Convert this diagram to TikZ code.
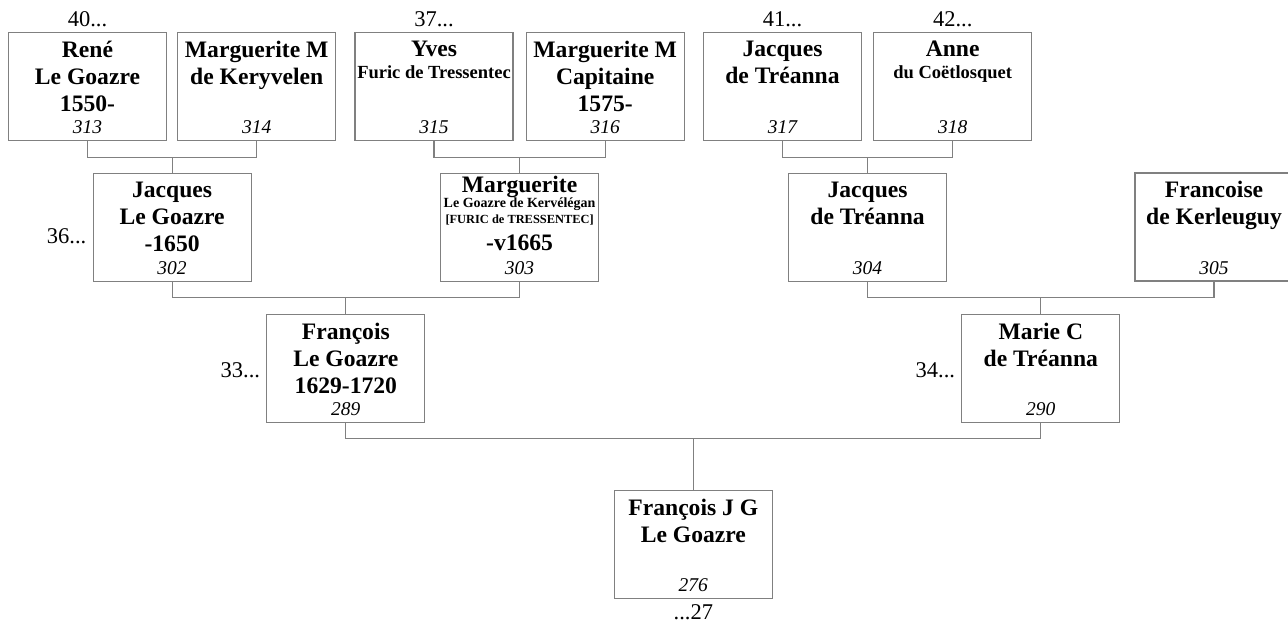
\documentclass[tikz,border=0pt]{standalone}
\usepackage{fontspec}
\setmainfont{Liberation Serif}
\usetikzlibrary{
  positioning,
  calc
}
\definecolor{boxgray}{RGB}{128,128,128}
\newcommand{\namefont}{\fontsize{23.6}{27}\selectfont\bfseries}
\newcommand{\subfont}{\fontsize{18.5}{21}\selectfont\bfseries}
\newcommand{\tinyfont}{\fontsize{14}{16}\selectfont\bfseries}
\newcommand{\numfont}{\fontsize{19.5}{22}\selectfont\itshape}
\newcommand{\genfont}{\fontsize{22.5}{26}\selectfont}

\begin{document}
\begin{tikzpicture}[
  x=1pt, y=1pt,
  pbox/.style={draw=boxgray, line width=1.2pt, minimum width=158pt, minimum height=108pt, inner sep=0pt},
  who/.style={anchor=north, align=center, inner sep=0pt, font=\namefont, yshift=-9pt, execute at begin node=\strut},
  num/.style={anchor=base, inner sep=0pt, font=\numfont, yshift=7.5pt},
  gen/.style={inner sep=0pt, font=\genfont},
  link/.style={draw=boxgray, line width=1.2pt}
]
\useasboundingbox (0,0) rectangle (1288,-627);

% great-grandparents
\node[pbox, label={[who]north:{René\\Le Goazre\\1550-}}, label={[num]south:313}] (p313) at (87.5,-86.5) {};
\node[pbox, right=10pt of p313, label={[who]north:{Marguerite M\\de Keryvelen}}, label={[num]south:314}] (p314) {};
\node[pbox, label={[who]north:{Yves\\[-5pt]{\subfont Furic de Tressentec}}}, label={[num]south:315}] (p315) at (434,-86.5) {};
\node[pbox, right=12pt of p315, label={[who]north:{Marguerite M\\Capitaine\\1575-}}, label={[num]south:316}] (p316) {};
\node[pbox, label={[who]north:{Jacques\\de Tréanna}}, label={[num]south:317}] (p317) at (782.5,-86.5) {};
\node[pbox, right=11pt of p317, label={[who]north:{Anne\\[-5pt]{\subfont du Coëtlosquet}}}, label={[num]south:318}] (p318) {};

% grandparents
\coordinate (j302) at ($(p313.south)!0.5!(p314.south)+(0,-16)$);
\coordinate (j303) at ($(p315.south)!0.5!(p316.south)+(0,-16)$);
\coordinate (j304) at ($(p317.south)!0.5!(p318.south)+(0,-16)$);
\node[pbox, label={[who]north:{Jacques\\Le Goazre\\-1650}}, label={[num]south:302}] (p302) at ($(j302)+(0,-70)$) {};
\node[pbox, label={[who, yshift=6pt]north:{Marguerite\\[-11.5pt]{\tinyfont Le Goazre de Kervélégan}\\[-11pt]{\fontsize{12.4}{14}\selectfont\bfseries [FURIC de TRESSENTEC]}\\[-0.5pt]-v1665}}, label={[num]south:303}] (p303) at ($(j303)+(0,-70)$) {};
\node[pbox, label={[who]north:{Jacques\\de Tréanna}}, label={[num]south:304}] (p304) at ($(j304)+(0,-70)$) {};
\node[pbox, label={[who]north:{Francoise\\de Kerleuguy}}, label={[num]south:305}] (p305) at (1214,-227) {};

% parents
\coordinate (j289) at ($(p302.south)!0.5!(p303.south)+(0,-16)$);
\coordinate (j290) at ($(p304.south)!0.5!(p305.south)+(0,-16)$);
\node[pbox, label={[who]north:{François\\Le Goazre\\1629-1720}}, label={[num]south:289}] (p289) at ($(j289)+(0,-70.5)$) {};
\node[pbox, label={[who]north:{Marie C\\de Tréanna}}, label={[num]south:290}] (p290) at ($(j290)+(0,-70.5)$) {};

% root
\coordinate (j276) at ($(p289.south)!0.5!(p290.south)+(0,-16)$);
\node[pbox, label={[who]north:{François J G\\Le Goazre}}, label={[num]south:276}] (p276) at ($(j276)+(0,-105.5)$) {};

% generation numbers
\node[gen, above=5pt of p313] (g313) {40...};
\node[gen, above=5pt of p315] (g315) {37...};
\node[gen, above=5pt of p317] (g317) {41...};
\node[gen, above=5pt of p318] (g318) {42...};
\node[gen, left=6pt of p302, yshift=-9pt] (g302) {36...};
\node[gen, left=6pt of p289, yshift=-2.5pt] (g289) {33...};
\node[gen, left=6pt of p290, yshift=-2.5pt] (g290) {34...};
\node[gen, below=6pt of p276] (g276) {...27};

% links
\draw[link] (p313.south) |- (j302) -| (p314.south);
\draw[link] (j302) -- (j302 |- p302.north);
\draw[link] (p315.south) |- (j303) -| (p316.south);
\draw[link] (j303) -- (j303 |- p303.north);
\draw[link] (p317.south) |- (j304) -| (p318.south);
\draw[link] (j304) -- (j304 |- p304.north);
\draw[link] (p302.south) |- (j289) -| (p303.south);
\draw[link] (j289) -- (j289 |- p289.north);
\draw[link] (p304.south) |- (j290) -| (p305.south);
\draw[link] (j290) -- (j290 |- p290.north);
\draw[link] (p289.south) |- (j276) -| (p290.south);
\draw[link] (j276) -- (j276 |- p276.north);
\end{tikzpicture}
\end{document}
